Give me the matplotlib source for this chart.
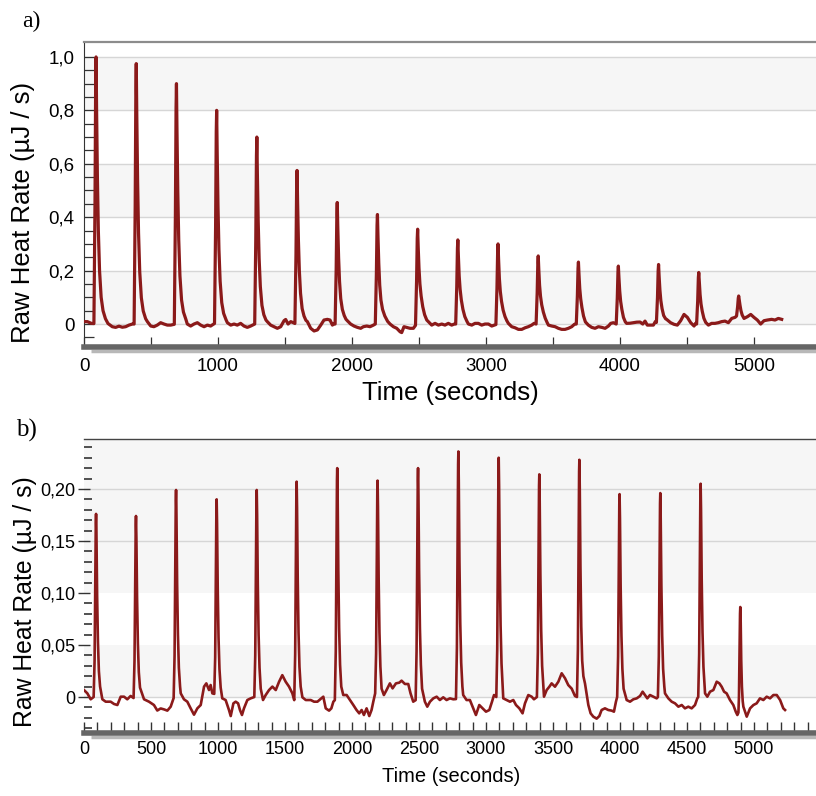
"""
Raw heat rate of two titration runs (a and b).
"""
import numpy as np
import matplotlib
matplotlib.use("Agg")
import matplotlib.pyplot as plt

# ---- data: (time in s, heat rate in uJ/s) ----
trace_a = [
    (0, 0.009), (25, 0.009), (55, 0.0025), (74, 0.002),
    (82, 0.45), (87, 0.9), (90, 1.0), (94, 0.8), (100, 0.55), (107, 0.35), (116, 0.2), (128, 0.1), (142, 0.05), (160, 0.02),
    (179, 0.002), (211, -0.010), (236, -0.0125), (261, -0.008), (286, -0.012), (311, -0.010), (336, -0.004), (361, 0.0), (374, 0.0),
    (382, 0.439), (387, 0.878), (390, 0.975), (394, 0.78), (400, 0.536), (407, 0.341), (416, 0.195), (428, 0.098), (442, 0.049), (460, 0.02),
    (473, 0.009), (498, -0.0075), (522, -0.010), (547, -0.004), (572, 0.005), (597, 0.0), (622, -0.004), (647, -0.004), (674, -0.001),
    (682, 0.405), (687, 0.81), (690, 0.90), (694, 0.72), (700, 0.495), (707, 0.315), (716, 0.18), (728, 0.09), (742, 0.045), (760, 0.018),
    (771, 0.0), (796, -0.0075), (821, 0.0), (846, 0.005), (871, -0.004), (896, -0.010), (921, -0.004), (945, -0.0075), (974, 0.002),
    (982, 0.36), (987, 0.72), (990, 0.80), (994, 0.64), (1000, 0.44), (1007, 0.28), (1016, 0.16), (1028, 0.08), (1042, 0.04), (1060, 0.016),
    (1070, 0.005), (1095, -0.004), (1120, 0.0), (1144, -0.004), (1169, 0.0025), (1194, -0.0075), (1219, -0.0125), (1244, -0.0075), (1274, 0.0),
    (1282, 0.315), (1287, 0.63), (1290, 0.70), (1294, 0.56), (1300, 0.385), (1307, 0.245), (1316, 0.14), (1328, 0.07), (1342, 0.035), (1358, 0.015),
    (1368, 0.009), (1393, -0.004), (1418, -0.010), (1443, -0.016), (1468, -0.010), (1493, 0.0125), (1505, 0.017), (1523, 0.0), (1543, 0.009), (1562, 0.005), (1574, 0.002),
    (1582, 0.259), (1587, 0.518), (1590, 0.575), (1594, 0.46), (1600, 0.316), (1607, 0.201), (1616, 0.115), (1628, 0.058), (1642, 0.03), (1656, 0.014),
    (1667, 0.009), (1692, -0.016), (1717, -0.026), (1742, -0.022), (1767, -0.004), (1791, 0.015), (1816, 0.0175), (1836, 0.015), (1854, -0.004), (1866, 0.002), (1874, 0.0),
    (1882, 0.205), (1887, 0.41), (1890, 0.455), (1894, 0.364), (1900, 0.25), (1907, 0.16), (1916, 0.095), (1928, 0.055), (1942, 0.032), (1955, 0.018),
    (1966, 0.012), (1990, 0.0), (2015, -0.0075), (2040, -0.0125), (2065, -0.016), (2085, -0.010), (2110, -0.0075), (2135, -0.010), (2160, -0.004), (2174, 0.0),
    (2182, 0.185), (2187, 0.369), (2190, 0.41), (2194, 0.328), (2200, 0.226), (2207, 0.145), (2216, 0.09), (2228, 0.055), (2245, 0.03), (2266, 0.01),
    (2284, 0.0), (2309, -0.010), (2334, -0.016), (2359, -0.029), (2371, -0.032), (2388, -0.010), (2408, -0.0125), (2433, -0.016), (2458, -0.016), (2474, -0.005),
    (2482, 0.16), (2487, 0.32), (2490, 0.355), (2494, 0.29), (2500, 0.21), (2507, 0.15), (2516, 0.105), (2528, 0.065), (2542, 0.035), (2558, 0.015),
    (2570, 0.009), (2595, -0.004), (2620, 0.0025), (2645, -0.004), (2670, 0.0), (2694, -0.004), (2719, 0.0025), (2744, -0.004), (2764, 0.0), (2774, 0.0),
    (2782, 0.142), (2787, 0.284), (2790, 0.315), (2794, 0.255), (2800, 0.18), (2807, 0.13), (2816, 0.09), (2828, 0.055), (2842, 0.028), (2858, 0.01),
    (2869, 0.0), (2894, -0.004), (2918, 0.0025), (2943, 0.0025), (2968, -0.004), (2993, 0.0), (3018, 0.0), (3043, -0.0075), (3074, -0.002),
    (3082, 0.135), (3087, 0.27), (3090, 0.30), (3094, 0.243), (3100, 0.17), (3107, 0.122), (3116, 0.085), (3128, 0.052), (3142, 0.028), (3156, 0.012),
    (3167, 0.0025), (3192, -0.010), (3217, -0.014), (3242, -0.020), (3267, -0.020), (3292, -0.014), (3316, -0.010), (3341, -0.004), (3359, 0.0025), (3374, 0.0),
    (3382, 0.115), (3387, 0.23), (3390, 0.255), (3394, 0.206), (3400, 0.145), (3407, 0.104), (3416, 0.072), (3428, 0.045), (3442, 0.022), (3456, 0.006),
    (3466, -0.004), (3491, -0.0075), (3516, -0.010), (3540, -0.016), (3565, -0.020), (3590, -0.020), (3615, -0.016), (3640, -0.010), (3660, -0.001), (3674, 0.0),
    (3682, 0.104), (3687, 0.209), (3690, 0.232), (3694, 0.188), (3700, 0.132), (3707, 0.094), (3716, 0.062), (3728, 0.03), (3742, 0.008),
    (3764, -0.004), (3789, -0.0125), (3814, -0.016), (3839, -0.010), (3864, -0.0125), (3889, -0.016), (3914, -0.0075), (3931, 0.0025), (3951, 0.005), (3972, 0.0),
    (3980, 0.098), (3985, 0.195), (3988, 0.217), (3992, 0.176), (3998, 0.124), (4005, 0.085), (4014, 0.055), (4026, 0.025), (4040, 0.008),
    (4050, 0.0025), (4075, 0.003), (4100, 0.005), (4125, 0.007), (4150, 0.0075), (4170, 0.0), (4187, 0.011), (4204, -0.004), (4219, -0.004), (4249, -0.004), (4264, 0.009), (4272, 0.006),
    (4280, 0.10), (4285, 0.2), (4288, 0.223), (4292, 0.18), (4298, 0.128), (4305, 0.088), (4314, 0.058), (4326, 0.032), (4340, 0.02),
    (4349, 0.017), (4378, 0.005), (4403, -0.001), (4428, -0.004), (4453, 0.0125), (4478, 0.036), (4503, 0.025), (4528, 0.005), (4553, -0.0075), (4564, 0.0025), (4572, 0.0),
    (4580, 0.087), (4585, 0.174), (4588, 0.193), (4592, 0.157), (4598, 0.11), (4605, 0.075), (4614, 0.048), (4626, 0.022), (4640, 0.006),
    (4660, -0.004), (4684, 0.0025), (4709, 0.0025), (4734, 0.005), (4759, 0.009), (4784, 0.011), (4809, 0.005), (4834, 0.021), (4859, 0.025), (4870, 0.03),
    (4878, 0.065), (4883, 0.097), (4886, 0.105), (4890, 0.09), (4896, 0.07), (4903, 0.05), (4912, 0.034), (4926, 0.021), (4951, 0.0275), (4976, 0.036), (5000, 0.025),
    (5025, 0.015), (5050, 0.0), (5075, 0.0125), (5100, 0.015), (5132, 0.0175), (5157, 0.015), (5182, 0.021), (5207, 0.0175),
]

trace_b = [
    (0, 0.0067), (25, 0.0035), (50, -0.0022), (72, 0.0),
    (79, 0.035), (84, 0.106), (88, 0.167), (90, 0.176), (93, 0.155), (98, 0.097), (104, 0.053), (111, 0.025), (120, 0.01),
    (137, -0.0022), (162, -0.0045), (199, -0.0045), (224, -0.0067), (249, -0.0077), (274, 0.0003), (299, 0.0003), (323, -0.0022), (348, 0.001), (370, -0.001),
    (377, 0.035), (382, 0.104), (386, 0.165), (388, 0.174), (391, 0.153), (396, 0.096), (402, 0.052), (409, 0.024), (418, 0.009),
    (448, -0.0022), (485, -0.0045), (522, -0.0077), (547, -0.013), (572, -0.011), (597, -0.0119), (622, -0.0131), (647, -0.0093), (669, -0.001),
    (676, 0.04), (681, 0.119), (685, 0.189), (687, 0.199), (690, 0.175), (695, 0.109), (701, 0.06), (708, 0.028), (717, 0.01),
    (722, 0.0035), (746, -0.0022), (771, -0.0045), (796, -0.0109), (821, -0.017), (846, -0.0109), (871, -0.0077), (896, 0.010), (913, 0.0131), (933, 0.0067), (945, 0.0115), (958, 0.0035), (972, 0.003),
    (979, 0.038), (984, 0.114), (988, 0.18), (990, 0.19), (993, 0.167), (998, 0.105), (1004, 0.057), (1011, 0.027), (1020, 0.009),
    (1032, -0.0013), (1057, -0.0029), (1082, -0.0125), (1095, -0.0183), (1115, -0.0061), (1132, -0.0045), (1150, -0.0061), (1164, -0.0125), (1179, -0.0173), (1194, -0.0109), (1219, -0.0029), (1244, -0.0013), (1271, 0.0),
    (1278, 0.04), (1283, 0.119), (1287, 0.189), (1289, 0.199), (1292, 0.175), (1297, 0.109), (1303, 0.06), (1310, 0.028), (1319, 0.008),
    (1336, -0.0029), (1356, 0.0019), (1381, 0.0067), (1406, 0.010), (1431, 0.0067), (1456, 0.0147), (1480, 0.021), (1505, 0.0147), (1530, 0.010), (1555, 0.0035), (1569, -0.003),
    (1576, 0.041), (1581, 0.124), (1585, 0.197), (1587, 0.207), (1590, 0.182), (1595, 0.114), (1601, 0.062), (1608, 0.029), (1617, 0.01),
    (1630, -0.0003), (1655, -0.0029), (1692, -0.0029), (1717, -0.0045), (1742, -0.0045), (1771, -0.0013), (1786, 0.0003), (1804, -0.0109), (1829, -0.0131), (1846, -0.0109), (1861, -0.0045), (1872, -0.003),
    (1879, 0.044), (1884, 0.132), (1888, 0.209), (1890, 0.22), (1893, 0.194), (1898, 0.121), (1904, 0.066), (1911, 0.031), (1920, 0.01),
    (1935, 0.0019), (1960, 0.0019), (1985, -0.0029), (2010, -0.0077), (2034, -0.0125), (2054, -0.0157), (2072, -0.0125), (2089, -0.0173), (2109, -0.0109), (2129, -0.0183), (2146, -0.0125), (2159, -0.0045), (2173, 0.0035),
    (2180, 0.042), (2185, 0.125), (2189, 0.198), (2191, 0.208), (2194, 0.183), (2199, 0.114), (2205, 0.062), (2212, 0.029), (2221, 0.008),
    (2238, 0.0019), (2258, 0.0067), (2283, 0.0131), (2303, 0.0083), (2328, 0.0131), (2353, 0.0138), (2370, 0.0157), (2395, 0.0125), (2420, 0.0125), (2437, 0.0035), (2457, -0.0045), (2475, -0.003),
    (2482, 0.044), (2487, 0.132), (2491, 0.209), (2493, 0.22), (2496, 0.194), (2501, 0.121), (2507, 0.066), (2514, 0.031), (2523, 0.008),
    (2544, -0.0045), (2562, -0.0093), (2582, -0.0045), (2607, -0.0013), (2632, 0.0003), (2656, -0.0029), (2681, -0.0003), (2706, -0.0029), (2731, -0.0013), (2756, -0.0022), (2776, -0.002),
    (2783, 0.047), (2788, 0.142), (2792, 0.224), (2794, 0.236), (2797, 0.208), (2802, 0.13), (2808, 0.071), (2815, 0.033), (2824, 0.01),
    (2830, 0.0019), (2855, -0.0029), (2880, -0.0029), (2905, -0.0109), (2925, -0.0173), (2950, -0.0077), (2975, -0.0109), (3000, -0.0141), (3025, -0.0125), (3045, -0.0045), (3060, 0.0019), (3077, 0.0),
    (3084, 0.046), (3089, 0.138), (3093, 0.219), (3095, 0.23), (3098, 0.202), (3103, 0.127), (3109, 0.069), (3116, 0.032), (3125, 0.01),
    (3129, -0.0013), (3154, -0.0029), (3179, -0.0045), (3204, -0.0029), (3224, -0.0077), (3249, -0.0109), (3273, -0.0157), (3291, -0.0061), (3316, 0.0019), (3341, 0.0003), (3358, -0.0022), (3380, 0.0),
    (3387, 0.043), (3392, 0.128), (3396, 0.203), (3398, 0.214), (3401, 0.188), (3406, 0.118), (3412, 0.064), (3419, 0.03), (3428, 0.01),
    (3433, 0.0003), (3453, 0.0067), (3473, 0.0099), (3490, 0.0131), (3515, 0.0099), (3540, 0.0147), (3565, 0.0228), (3590, 0.018), (3614, 0.0115), (3640, 0.008), (3664, 0.001), (3679, 0.0),
    (3686, 0.046), (3691, 0.137), (3695, 0.217), (3697, 0.228), (3700, 0.201), (3705, 0.125), (3711, 0.068), (3718, 0.035), (3727, 0.02), (3739, 0.013),
    (3764, -0.0077), (3781, -0.0157), (3801, -0.0189), (3826, -0.0208), (3846, -0.0183), (3863, -0.0125), (3888, -0.0109), (3913, -0.0125), (3938, -0.0131), (3955, -0.0141), (3970, -0.0045), (3979, 0.0),
    (3986, 0.039), (3991, 0.117), (3995, 0.185), (3997, 0.195), (4000, 0.172), (4005, 0.107), (4011, 0.059), (4018, 0.027), (4027, 0.008),
    (4050, -0.0029), (4075, -0.0045), (4100, -0.0022), (4125, -0.0013), (4150, 0.001), (4169, 0.0051), (4187, 0.0019), (4204, -0.0013), (4224, 0.0019), (4249, 0.0003), (4274, -0.0013), (4283, 0.0),
    (4290, 0.039), (4295, 0.118), (4299, 0.186), (4301, 0.196), (4304, 0.172), (4309, 0.108), (4315, 0.059), (4322, 0.027), (4331, 0.01),
    (4336, 0.0035), (4361, -0.0013), (4386, -0.0045), (4411, -0.0061), (4436, -0.0093), (4461, -0.0077), (4485, -0.0109), (4510, -0.0093), (4535, -0.0109), (4560, -0.0077), (4577, -0.0013), (4584, 0.0),
    (4591, 0.041), (4596, 0.123), (4600, 0.195), (4602, 0.205), (4605, 0.18), (4610, 0.113), (4616, 0.062), (4623, 0.029), (4632, 0.01),
    (4635, 0.0035), (4652, 0.0003), (4672, 0.0051), (4697, 0.0067), (4722, 0.0147), (4742, 0.0131), (4759, 0.0099), (4777, 0.0051), (4796, 0.0035), (4821, -0.0029), (4846, -0.0077), (4864, -0.0141), (4876, -0.0173), (4884, -0.015),
    (4888, 0.0), (4892, 0.04), (4896, 0.08), (4898, 0.0865), (4901, 0.072), (4905, 0.035), (4910, 0.01), (4916, -0.004),
    (4921, -0.0093), (4946, -0.0189), (4971, -0.0109), (4996, -0.0077), (5020, -0.0061), (5045, -0.0013), (5070, -0.0029), (5095, 0.0003), (5120, -0.0013), (5145, 0.0019), (5170, 0.0019), (5195, -0.0029), (5219, -0.0109), (5232, -0.0125),
]

yticks_a = [0, 0.2, 0.4, 0.6, 0.8, 1.0]
ylabels_a = ["0", "0,2", "0,4", "0,6", "0,8", "1,0"]
xticks_a = [0, 1000, 2000, 3000, 4000, 5000]
shaded_a = [(0.0, 0.2), (0.4, 0.6), (0.8, 1.0)]

yticks_b = [0, 0.05, 0.10, 0.15, 0.20]
ylabels_b = ["0", "0,05", "0,10", "0,15", "0,20"]
xticks_b = [0, 500, 1000, 1500, 2000, 2500, 3000, 3500, 4000, 4500, 5000]
shaded_b = [(0.0, 0.05), (0.10, 0.30)]
grid_b = [0, 0.15, 0.20]

LINE = "#8b1a1a"
SANS = ["Liberation Sans", "DejaVu Sans"]
NARROW = ["Liberation Sans Narrow", "Liberation Sans", "DejaVu Sans"]

fig = plt.figure(figsize=(8.16, 7.96), dpi=100)
fig.patch.set_facecolor("white")

# ---------------- panel a ----------------
ax = fig.add_axes([84 / 816, 1 - 347 / 796, 1 - 84 / 816, 305 / 796])
t_a, q_a = np.array(trace_a).T
for lo, hi in shaded_a:
    ax.axhspan(lo, hi, color="#f6f6f6", lw=0, zorder=0)
for y in yticks_a:
    ax.axhline(y, color="#d6d6d6", lw=1.0, zorder=1)
ax.plot(t_a, q_a, color=LINE, lw=2.3, zorder=3, solid_joinstyle="round")
ax.set_xlim(0, 5463)
ax.set_ylim(-0.086, 1.056)

ax.set_xticks(xticks_a)
ax.set_xticks(np.arange(500, 5500, 1000), minor=True)
ax.set_yticks(yticks_a)
ax.set_yticklabels(ylabels_a)
ax.set_yticks(np.arange(-0.05, 1.0, 0.05), minor=True)
ax.tick_params(axis="both", which="both", direction="in", length=7, width=0.9,
               color="#333333", labelsize=13.5)
ax.tick_params(axis="x", which="major", pad=8)
ax.tick_params(axis="y", which="major", pad=7)
for lab in ax.get_xticklabels() + ax.get_yticklabels():
    lab.set_family(SANS)

ax.spines["right"].set_visible(False)
ax.spines["top"].set_color("#8c8c8c")
ax.spines["top"].set_linewidth(1.6)
ax.spines["left"].set_color("#333333")
ax.spines["left"].set_linewidth(0.8)
ax.spines["bottom"].set_color("#666666")
ax.spines["bottom"].set_linewidth(4)
# soft shadow under the axis bar
ax.plot([0.01, 1.0], [-0.012, -0.012], transform=ax.transAxes, clip_on=False,
        color="#b8b8b8", lw=2.5, solid_capstyle="butt")

fig.text(23 / 816, 1 - 212 / 796, "Raw Heat Rate (µJ / s)", rotation=90,
         ha="center", va="center", fontsize=18.5, family=SANS)
fig.text(450 / 816, 1 - 393 / 796, "Time (seconds)", ha="center", va="center",
         fontsize=18.5, family=SANS)
fig.text(22 / 816, 1 - 21 / 796, "a)", ha="left", va="center", fontsize=17,
         family=["Liberation Serif", "DejaVu Serif"])

# ---------------- panel b ----------------
bx = fig.add_axes([84 / 816, 1 - 733 / 796, 1 - 84 / 816, 294 / 796])
t_b, q_b = np.array(trace_b).T
for lo, hi in shaded_b:
    bx.axhspan(lo, hi, color="#f6f6f6", lw=0, zorder=0)
for y in grid_b:
    bx.axhline(y, color="#d6d6d6", lw=1.0, zorder=1)
bx.plot(t_b, q_b, color=LINE, lw=1.9, zorder=3, solid_joinstyle="round")
bx.set_xlim(0, 5463)
bx.set_ylim(-0.0346, 0.248)

bx.set_xticks(xticks_b)
bx.set_xticks([t for t in range(100, 5500, 100) if t % 500], minor=True)
bx.set_yticks(yticks_b)
bx.set_yticklabels(ylabels_b)
bx.set_yticks(np.arange(-0.03, 0.245, 0.01), minor=True)
bx.tick_params(axis="x", which="both", direction="in", length=8, width=1.0,
               color="#333333", labelsize=13, pad=6)
bx.tick_params(axis="y", which="major", direction="inout", length=9, width=1.0,
               color="#333333", labelsize=13, pad=2)
bx.tick_params(axis="y", which="minor", direction="in", length=6, width=1.2,
               color="#333333")
for lab in bx.get_xticklabels() + bx.get_yticklabels():
    lab.set_family(NARROW)

bx.spines["right"].set_visible(False)
bx.spines["left"].set_visible(False)
bx.spines["top"].set_color("#444444")
bx.spines["top"].set_linewidth(1.0)
bx.spines["bottom"].set_color("#666666")
bx.spines["bottom"].set_linewidth(4)
bx.plot([0.01, 1.0], [-0.012, -0.012], transform=bx.transAxes, clip_on=False,
        color="#b8b8b8", lw=2.5, solid_capstyle="butt")

fig.text(25 / 816, 1 - 602 / 796, "Raw Heat Rate (µJ / s)", rotation=90,
         ha="center", va="center", fontsize=17.8, family=SANS)
fig.text(451 / 816, 1 - 777 / 796, "Time (seconds)", ha="center", va="center",
         fontsize=14.5, family=SANS)
fig.text(16 / 816, 1 - 430 / 796, "b)", ha="left", va="center", fontsize=18,
         family=["Liberation Serif", "DejaVu Serif"])

fig.savefig("out.png", dpi=100)
